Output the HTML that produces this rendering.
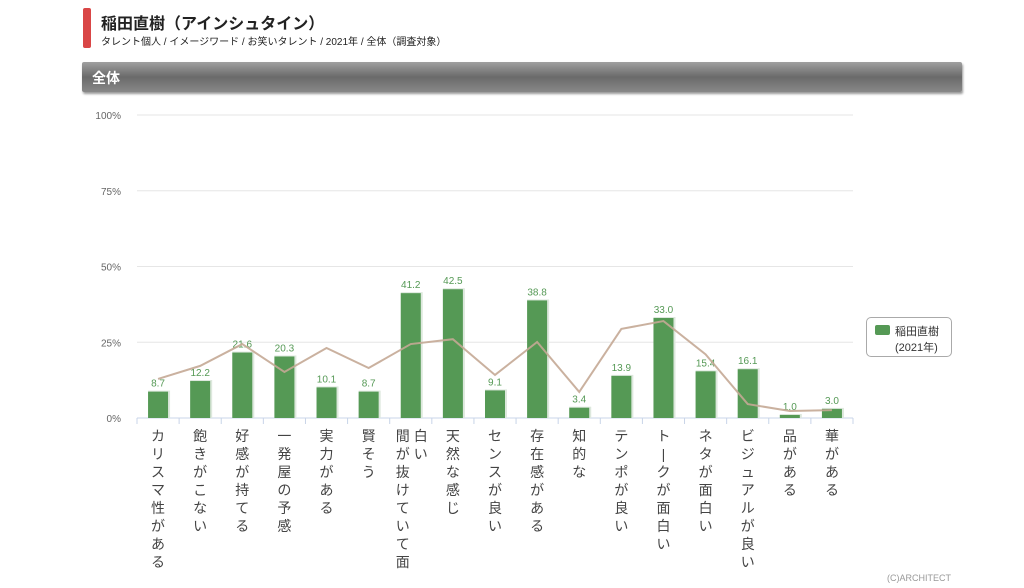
<!DOCTYPE html>
<html><head><meta charset="utf-8">
<style>
body{margin:0;width:1024px;height:588px;background:#fff;font-family:"Liberation Sans","Noto Sans CJK JP",sans-serif;overflow:hidden;position:relative}
.bar-red{position:absolute;left:83px;top:8px;width:8px;height:40px;background:#d94646;border-radius:2px}
.title{position:absolute;left:101px;top:10px;font-size:16px;font-weight:bold;color:#222}
.sub{position:absolute;left:101px;top:33px;font-size:10px;color:#222}
.sec{position:absolute;left:82px;top:62px;width:880px;height:30px;background:linear-gradient(#a0a0a0,#6a6a6a 50%,#888);box-shadow:1px 2px 2px #999;border-radius:2px}
.sec span{position:absolute;left:10px;top:6px;color:#fff;font-size:14px;font-weight:bold}
.legend{position:absolute;left:866px;top:317px;width:84px;height:38px;border:1px solid #aaa;border-radius:5px;font-size:11px;color:#333}
.copy{position:absolute;left:887px;top:573px;font-size:9px;color:#999}
</style></head><body>
<div class="bar-red"></div>
<div class="title">稲田直樹（アインシュタイン）</div>
<div class="sub">タレント個人 / イメージワード / お笑いタレント / 2021年 / 全体（調査対象）</div>
<div class="sec"><span>全体</span></div>
<svg id="chart" width="1024" height="588" style="position:absolute;left:0;top:0"></svg>
<div class="legend">
<div style="position:absolute;left:8px;top:7px;width:15px;height:10px;background:#559955;border-radius:2px"></div>
<div style="position:absolute;left:28px;top:5px">稲田直樹</div>
<div style="position:absolute;left:28px;top:21px">(2021年)</div>
</div>
<div class="copy">(C)ARCHITECT</div>
<script>
const categories=[["カリスマ性がある"],["飽きがこない"],["好感が持てる"],["一発屋の予感"],["実力がある"],["賢そう"],["間が抜けていて面","白い"],["天然な感じ"],["センスが良い"],["存在感がある"],["知的な"],["テンポが良い"],["ト—クが面白い"],["ネタが面白い"],["ビジュアルが良い"],["品がある"],["華がある"]];
const values=[8.7,12.2,21.6,20.3,10.1,8.7,41.2,42.5,9.1,38.8,3.4,13.9,33.0,15.4,16.1,1.0,3.0];
const average=[12.9,17.2,24.4,15.2,23.1,16.5,24.4,26.0,14.2,25.1,8.6,29.4,32.0,21.0,4.6,2.3,2.6];
const yTicks=[0,25,50,75,100];
const NS="http://www.w3.org/2000/svg",svg=document.getElementById('chart');
const x0=137,x1=853,yBase=418,yTop=115,n=categories.length,step=(x1-x0)/n;
const y=v=>yBase-(yBase-yTop)*v/100, xc=i=>x0+step*(i+0.5);
function mk(t,a){const e=document.createElementNS(NS,t);for(const k in a)e.setAttribute(k,a[k]);svg.appendChild(e);return e;}
yTicks.forEach(t=>{
 const g=mk('line',{x1:x0,x2:x1,y1:y(t),y2:y(t),stroke:t?'#e6e6e6':'#c8d4e8','stroke-width':1});
 
 
 const l=mk('text',{x:121,y:y(t)+4,'text-anchor':'end','font-size':10,fill:'#666'});
 l.textContent=t+'%';
 
 
});
for(let i=0;i<=n;i++){const t=mk('line',{x1:x0+step*i,x2:x0+step*i,y1:yBase,y2:yBase+6,stroke:'#c8d4e8'});
 
 }
values.forEach((v,i)=>{
 const bx=xc(i)-10;
 const s=mk('rect',{x:bx,y:y(v)-1,width:22,height:yBase-y(v)+1,fill:'#dde8dd'});
 
 
 const b=mk('rect',{x:bx,y:y(v),width:20,height:yBase-y(v),fill:'#559955'});
 
 
 const t=mk('text',{x:xc(i),y:y(v)-5,'text-anchor':'middle','font-size':10,fill:'#559955'});
 t.textContent=v.toFixed(1);
 
 
});
const p=mk('polyline',{points:average.map((v,i)=>xc(i)+','+y(v)).join(' '),fill:'none',stroke:'#c4a995','stroke-width':2,opacity:0.9});


categories.forEach((cols,i)=>{
 cols.forEach((s,c)=>{
  const cx=xc(i)+(cols.length>1?(c===0?-8:10):0);
  [...s].forEach((ch,k)=>{
   const t=mk('text',{x:cx,y:441+k*18,'text-anchor':'middle','font-size':14,fill:'#444'});
   t.textContent=ch==='—'?'|':ch;
   
   
  });
 });
});
</script>
</body></html>
